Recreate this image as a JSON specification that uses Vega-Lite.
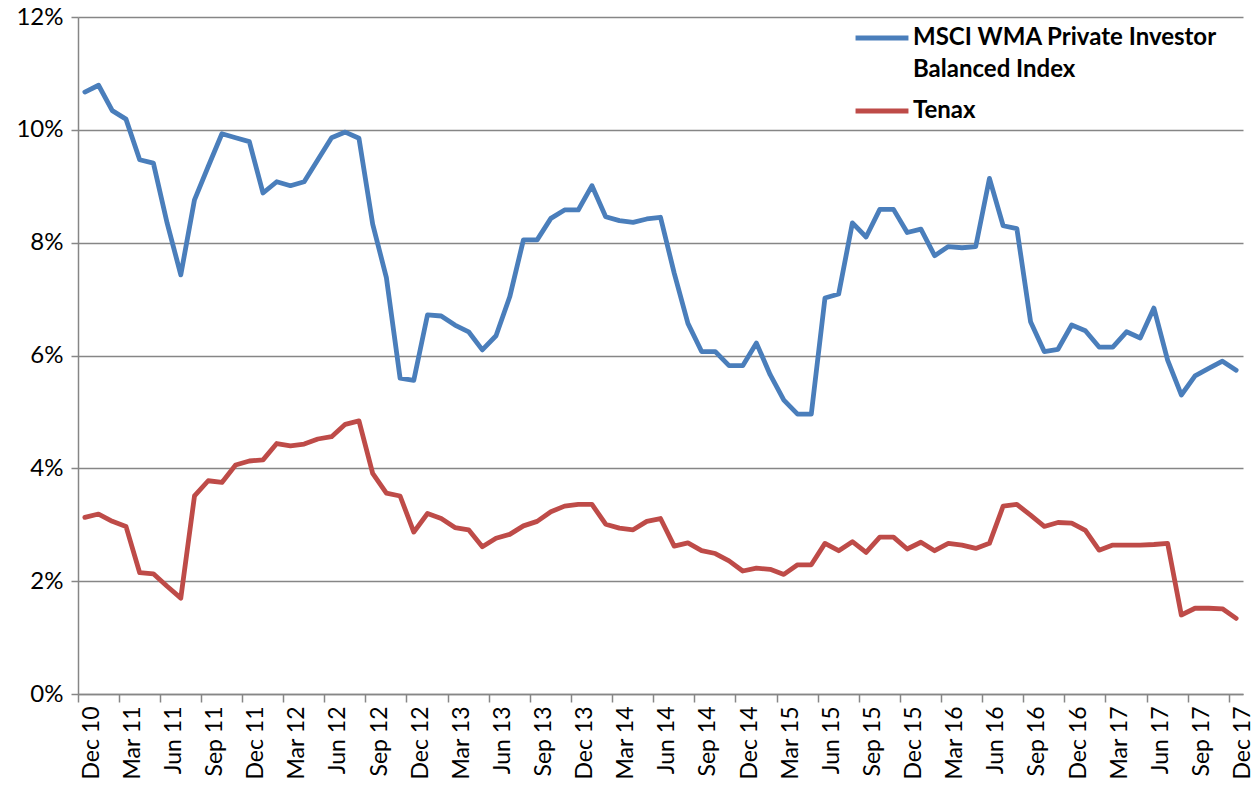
{
  "$schema": "https://vega.github.io/schema/vega-lite/v6.json",
  "width": 1165,
  "height": 677,
  "autosize": "none",
  "padding": {"left": 78, "top": 17, "right": 15, "bottom": 97},
  "background": "white",
  "config": {"view": {"stroke": null}, "font": "Lato", "style": {"guide-label": {"lineHeight": 32}}},
  "data": {"values": [
    {"m": "Dec 10", "MSCI WMA Private Investor Balanced Index": 10.67, "Tenax": 3.13},
    {"m": "Jan 11", "MSCI WMA Private Investor Balanced Index": 10.79, "Tenax": 3.19},
    {"m": "Feb 11", "MSCI WMA Private Investor Balanced Index": 10.34, "Tenax": 3.06},
    {"m": "Mar 11", "MSCI WMA Private Investor Balanced Index": 10.19, "Tenax": 2.97},
    {"m": "Apr 11", "MSCI WMA Private Investor Balanced Index": 9.47, "Tenax": 2.15},
    {"m": "May 11", "MSCI WMA Private Investor Balanced Index": 9.41, "Tenax": 2.13},
    {"m": "Jun 11", "MSCI WMA Private Investor Balanced Index": 8.35, "Tenax": 1.91},
    {"m": "Jul 11", "MSCI WMA Private Investor Balanced Index": 7.43, "Tenax": 1.70},
    {"m": "Aug 11", "MSCI WMA Private Investor Balanced Index": 8.76, "Tenax": 3.51},
    {"m": "Sep 11", "MSCI WMA Private Investor Balanced Index": 9.35, "Tenax": 3.78},
    {"m": "Oct 11", "MSCI WMA Private Investor Balanced Index": 9.93, "Tenax": 3.75},
    {"m": "Nov 11", "MSCI WMA Private Investor Balanced Index": 9.86, "Tenax": 4.06},
    {"m": "Dec 11", "MSCI WMA Private Investor Balanced Index": 9.79, "Tenax": 4.13},
    {"m": "Jan 12", "MSCI WMA Private Investor Balanced Index": 8.88, "Tenax": 4.15},
    {"m": "Feb 12", "MSCI WMA Private Investor Balanced Index": 9.08, "Tenax": 4.44},
    {"m": "Mar 12", "MSCI WMA Private Investor Balanced Index": 9.01, "Tenax": 4.40},
    {"m": "Apr 12", "MSCI WMA Private Investor Balanced Index": 9.08, "Tenax": 4.43},
    {"m": "May 12", "MSCI WMA Private Investor Balanced Index": 9.47, "Tenax": 4.52},
    {"m": "Jun 12", "MSCI WMA Private Investor Balanced Index": 9.86, "Tenax": 4.56},
    {"m": "Jul 12", "MSCI WMA Private Investor Balanced Index": 9.96, "Tenax": 4.78},
    {"m": "Aug 12", "MSCI WMA Private Investor Balanced Index": 9.85, "Tenax": 4.84},
    {"m": "Sep 12", "MSCI WMA Private Investor Balanced Index": 8.33, "Tenax": 3.91},
    {"m": "Oct 12", "MSCI WMA Private Investor Balanced Index": 7.38, "Tenax": 3.56},
    {"m": "Nov 12", "MSCI WMA Private Investor Balanced Index": 5.60, "Tenax": 3.51},
    {"m": "Dec 12", "MSCI WMA Private Investor Balanced Index": 5.56, "Tenax": 2.87},
    {"m": "Jan 13", "MSCI WMA Private Investor Balanced Index": 6.72, "Tenax": 3.20},
    {"m": "Feb 13", "MSCI WMA Private Investor Balanced Index": 6.70, "Tenax": 3.11},
    {"m": "Mar 13", "MSCI WMA Private Investor Balanced Index": 6.54, "Tenax": 2.95},
    {"m": "Apr 13", "MSCI WMA Private Investor Balanced Index": 6.42, "Tenax": 2.91},
    {"m": "May 13", "MSCI WMA Private Investor Balanced Index": 6.10, "Tenax": 2.61},
    {"m": "Jun 13", "MSCI WMA Private Investor Balanced Index": 6.35, "Tenax": 2.76},
    {"m": "Jul 13", "MSCI WMA Private Investor Balanced Index": 7.04, "Tenax": 2.83},
    {"m": "Aug 13", "MSCI WMA Private Investor Balanced Index": 8.05, "Tenax": 2.98},
    {"m": "Sep 13", "MSCI WMA Private Investor Balanced Index": 8.05, "Tenax": 3.06},
    {"m": "Oct 13", "MSCI WMA Private Investor Balanced Index": 8.43, "Tenax": 3.23},
    {"m": "Nov 13", "MSCI WMA Private Investor Balanced Index": 8.58, "Tenax": 3.33},
    {"m": "Dec 13", "MSCI WMA Private Investor Balanced Index": 8.58, "Tenax": 3.36},
    {"m": "Jan 14", "MSCI WMA Private Investor Balanced Index": 9.01, "Tenax": 3.36},
    {"m": "Feb 14", "MSCI WMA Private Investor Balanced Index": 8.46, "Tenax": 3.01},
    {"m": "Mar 14", "MSCI WMA Private Investor Balanced Index": 8.39, "Tenax": 2.94},
    {"m": "Apr 14", "MSCI WMA Private Investor Balanced Index": 8.36, "Tenax": 2.91},
    {"m": "May 14", "MSCI WMA Private Investor Balanced Index": 8.42, "Tenax": 3.06},
    {"m": "Jun 14", "MSCI WMA Private Investor Balanced Index": 8.45, "Tenax": 3.11},
    {"m": "Jul 14", "MSCI WMA Private Investor Balanced Index": 7.46, "Tenax": 2.62},
    {"m": "Aug 14", "MSCI WMA Private Investor Balanced Index": 6.57, "Tenax": 2.68},
    {"m": "Sep 14", "MSCI WMA Private Investor Balanced Index": 6.07, "Tenax": 2.54},
    {"m": "Oct 14", "MSCI WMA Private Investor Balanced Index": 6.07, "Tenax": 2.49},
    {"m": "Nov 14", "MSCI WMA Private Investor Balanced Index": 5.82, "Tenax": 2.36},
    {"m": "Dec 14", "MSCI WMA Private Investor Balanced Index": 5.82, "Tenax": 2.18},
    {"m": "Jan 15", "MSCI WMA Private Investor Balanced Index": 6.22, "Tenax": 2.23},
    {"m": "Feb 15", "MSCI WMA Private Investor Balanced Index": 5.66, "Tenax": 2.21},
    {"m": "Mar 15", "MSCI WMA Private Investor Balanced Index": 5.21, "Tenax": 2.12},
    {"m": "Apr 15", "MSCI WMA Private Investor Balanced Index": 4.96, "Tenax": 2.29},
    {"m": "May 15", "MSCI WMA Private Investor Balanced Index": 4.96, "Tenax": 2.29},
    {"m": "Jun 15", "MSCI WMA Private Investor Balanced Index": 7.02, "Tenax": 2.67},
    {"m": "Jul 15", "MSCI WMA Private Investor Balanced Index": 7.09, "Tenax": 2.54},
    {"m": "Aug 15", "MSCI WMA Private Investor Balanced Index": 8.35, "Tenax": 2.70},
    {"m": "Sep 15", "MSCI WMA Private Investor Balanced Index": 8.10, "Tenax": 2.51},
    {"m": "Oct 15", "MSCI WMA Private Investor Balanced Index": 8.59, "Tenax": 2.78},
    {"m": "Nov 15", "MSCI WMA Private Investor Balanced Index": 8.59, "Tenax": 2.78},
    {"m": "Dec 15", "MSCI WMA Private Investor Balanced Index": 8.18, "Tenax": 2.57},
    {"m": "Jan 16", "MSCI WMA Private Investor Balanced Index": 8.24, "Tenax": 2.69},
    {"m": "Feb 16", "MSCI WMA Private Investor Balanced Index": 7.77, "Tenax": 2.54},
    {"m": "Mar 16", "MSCI WMA Private Investor Balanced Index": 7.93, "Tenax": 2.67},
    {"m": "Apr 16", "MSCI WMA Private Investor Balanced Index": 7.91, "Tenax": 2.64},
    {"m": "May 16", "MSCI WMA Private Investor Balanced Index": 7.93, "Tenax": 2.58},
    {"m": "Jun 16", "MSCI WMA Private Investor Balanced Index": 9.14, "Tenax": 2.67},
    {"m": "Jul 16", "MSCI WMA Private Investor Balanced Index": 8.30, "Tenax": 3.33},
    {"m": "Aug 16", "MSCI WMA Private Investor Balanced Index": 8.25, "Tenax": 3.36},
    {"m": "Sep 16", "MSCI WMA Private Investor Balanced Index": 6.60, "Tenax": 3.17},
    {"m": "Oct 16", "MSCI WMA Private Investor Balanced Index": 6.07, "Tenax": 2.97},
    {"m": "Nov 16", "MSCI WMA Private Investor Balanced Index": 6.11, "Tenax": 3.04},
    {"m": "Dec 16", "MSCI WMA Private Investor Balanced Index": 6.54, "Tenax": 3.03},
    {"m": "Jan 17", "MSCI WMA Private Investor Balanced Index": 6.44, "Tenax": 2.90},
    {"m": "Feb 17", "MSCI WMA Private Investor Balanced Index": 6.15, "Tenax": 2.55},
    {"m": "Mar 17", "MSCI WMA Private Investor Balanced Index": 6.15, "Tenax": 2.64},
    {"m": "Apr 17", "MSCI WMA Private Investor Balanced Index": 6.42, "Tenax": 2.64},
    {"m": "May 17", "MSCI WMA Private Investor Balanced Index": 6.31, "Tenax": 2.64},
    {"m": "Jun 17", "MSCI WMA Private Investor Balanced Index": 6.84, "Tenax": 2.65},
    {"m": "Jul 17", "MSCI WMA Private Investor Balanced Index": 5.92, "Tenax": 2.67},
    {"m": "Aug 17", "MSCI WMA Private Investor Balanced Index": 5.30, "Tenax": 1.40},
    {"m": "Sep 17", "MSCI WMA Private Investor Balanced Index": 5.64, "Tenax": 1.52},
    {"m": "Oct 17", "MSCI WMA Private Investor Balanced Index": 5.77, "Tenax": 1.52},
    {"m": "Nov 17", "MSCI WMA Private Investor Balanced Index": 5.90, "Tenax": 1.51},
    {"m": "Dec 17", "MSCI WMA Private Investor Balanced Index": 5.74, "Tenax": 1.34}
  ]},
  "transform": [
    {"fold": ["MSCI WMA Private Investor Balanced Index", "Tenax"], "as": ["series", "value"]}
  ],
  "mark": {"type": "line", "strokeWidth": 4.8, "strokeJoin": "round", "strokeCap": "round"},
  "encoding": {
    "x": {
      "field": "m",
      "type": "ordinal",
      "sort": null,
      "scale": {"type": "band", "paddingInner": 0, "paddingOuter": 0},
      "axis": {
        "title": null,
        "values": ["Dec 10", "Mar 11", "Jun 11", "Sep 11", "Dec 11", "Mar 12", "Jun 12", "Sep 12", "Dec 12", "Mar 13", "Jun 13", "Sep 13", "Dec 13", "Mar 14", "Jun 14", "Sep 14", "Dec 14", "Mar 15", "Jun 15", "Sep 15", "Dec 15", "Mar 16", "Jun 16", "Sep 16", "Dec 16", "Mar 17", "Jun 17", "Sep 17", "Dec 17"],
        "bandPosition": 0,
        "labelOffset": 6.85,
        "labelAngle": -90,
        "labelFontSize": 23,
        "labelColor": "#000000",
        "labelPadding": 4,
        "tickSize": 8,
        "tickWidth": 1.5,
        "tickColor": "#868686",
        "domainColor": "#868686",
        "domainWidth": 1.5,
        "grid": false
      }
    },
    "y": {
      "field": "value",
      "type": "quantitative",
      "scale": {"domain": [0, 12], "nice": false},
      "axis": {
        "title": null,
        "values": [0, 2, 4, 6, 8, 10, 12],
        "labelExpr": "datum.value + '%'",
        "labelFontSize": 24,
        "labelColor": "#000000",
        "labelPadding": 8,
        "grid": true,
        "gridColor": "#868686",
        "gridWidth": 1.5,
        "tickSize": 7,
        "tickWidth": 1.5,
        "tickColor": "#868686",
        "domainColor": "#868686",
        "domainWidth": 1.5
      }
    },
    "color": {
      "field": "series",
      "type": "nominal",
      "scale": {"domain": ["MSCI WMA Private Investor Balanced Index", "Tenax"], "range": ["#4A7EBB", "#BE4B48"]},
      "legend": {
        "orient": "none",
        "legendX": 775,
        "legendY": -8,
        "title": null,
        "symbolType": "stroke",
        "symbolStrokeWidth": 5,
        "symbolSize": 2800,
        "labelFontSize": 24,
        "labelFontWeight": "bold",
        "labelColor": "#000000",
        "labelLimit": 0,
        "labelOffset": 2,
        "rowPadding": -11,
        "labelExpr": "datum.label == 'Tenax' ? 'Tenax' : ['MSCI WMA Private Investor', 'Balanced Index']"
      }
    }
  }
}
